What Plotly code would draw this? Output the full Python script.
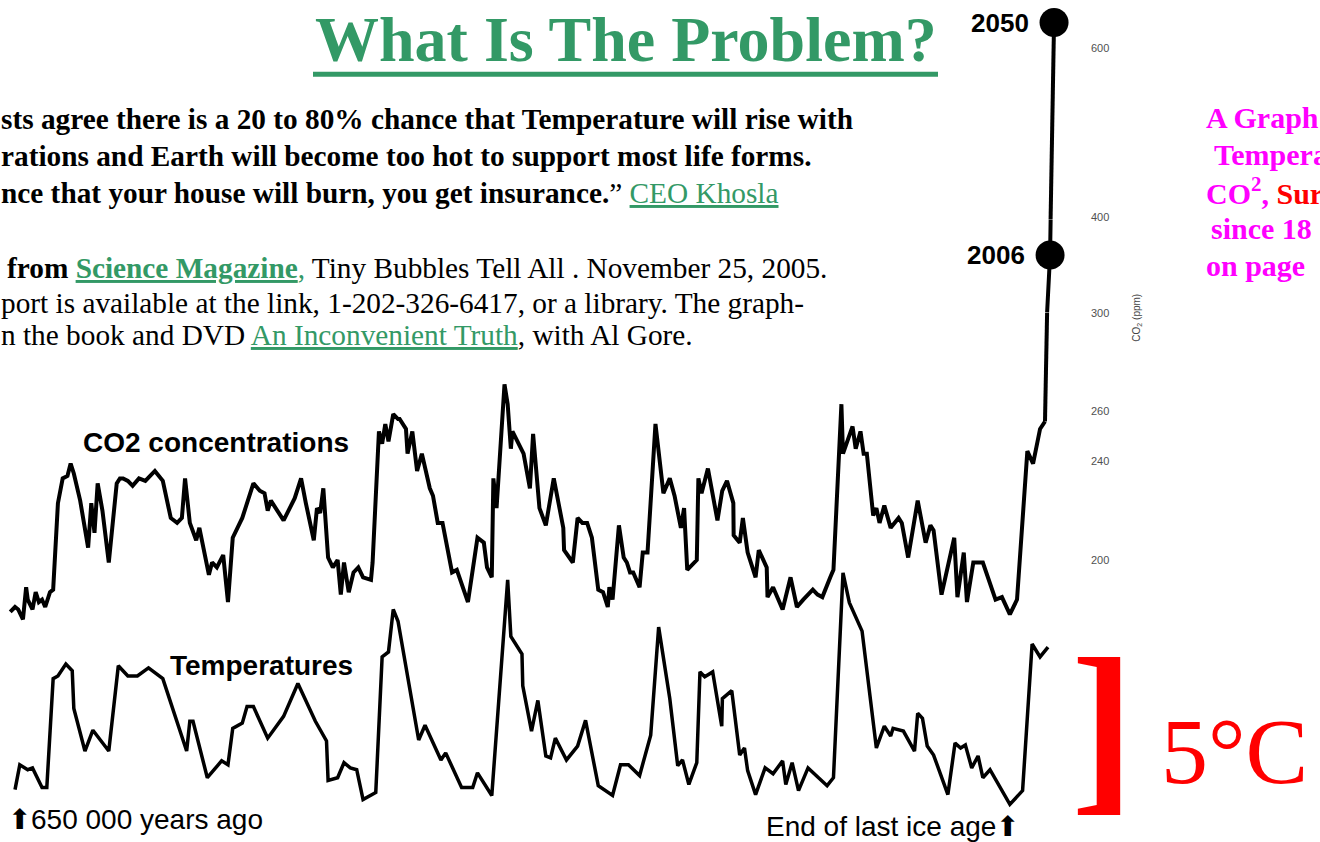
import plotly.graph_objects as go

# ---------------- data ----------------
# CO2 record: thousand years before present -> ppm
co2_kyr = [653, 650, 648, 645, 643, 642, 639, 637, 635, 633,
           631, 628, 626, 623, 620, 617, 615, 613, 609, 604,
           602, 600, 598, 595, 591, 586, 584, 582, 579, 576,
           572, 568, 562, 557, 552, 548, 545, 543, 540, 536,
           534, 530, 528, 526, 523, 519, 516, 513, 507, 500,
           496, 493, 491, 489, 481, 474, 470, 467, 462, 460,
           458, 456, 453, 450, 447, 445, 443, 440, 437, 434,
           431, 426, 425, 421, 419, 417, 415, 412, 409, 408,
           404, 403, 400, 397, 394, 389, 387, 384, 381, 375,
           372, 365, 359, 355, 353, 350, 349, 347, 342, 340,
           338, 337, 332, 330, 326, 324, 320, 316, 311, 308,
           305, 304.5, 299, 296, 293, 290, 287, 283, 280, 277,
           276, 274, 270, 267, 265, 263, 261, 257, 255, 252,
           247, 242, 238, 235, 231, 229, 227, 221, 220, 218,
           214, 208, 205, 202, 198, 197.8, 194, 192, 189, 184,
           182, 177, 176.5, 173, 167, 162, 158, 154, 148, 145,
           142, 137, 135, 130, 129, 123, 121, 118, 116, 114,
           110, 108, 106, 103, 99, 94, 92, 88, 82, 77,
           74, 72, 67, 59, 57, 53, 51, 47, 41, 33,
           29, 24, 19.5, 13, 9.4, 5.0, 1.9]
co2_ppm = [179, 181, 180, 176, 189, 184, 180, 187, 183, 184,
           181, 187, 188, 223, 233, 234, 239, 235, 224, 205,
           223, 211, 231, 220, 199, 231, 233, 233, 232, 230,
           233, 232, 236, 232, 217, 215, 217, 233, 215, 208,
           213, 199, 194, 199, 197, 202, 183, 209, 217, 231,
           228, 227, 220, 224, 216, 225, 233, 223, 208, 221,
           219, 229, 201, 197, 200, 186, 199, 187, 195, 197,
           193, 192, 199, 252, 247, 255, 248, 259, 257, 257,
           253, 243, 252, 236, 243, 229, 226, 215, 215, 195,
           196, 183, 209, 207, 197, 193, 233, 221, 271, 263,
           245, 252, 245, 243, 229, 251, 221, 214, 233, 223,
           213, 204, 199, 217, 215, 215, 209, 188, 187, 181,
           189, 184, 214, 201, 199, 195, 195, 189, 203, 203,
           255, 227, 233, 226, 213, 221, 196, 200, 233, 227,
           237, 216, 228, 232, 223, 210, 207, 217, 203, 193,
           204, 197, 185, 189, 180, 193, 181, 184, 188, 186,
           185, 193, 196, 263, 243, 254, 245, 252, 243, 243,
           218, 221, 215, 222, 213, 217, 215, 201, 224, 207,
           214, 212, 186, 209, 185, 203, 183, 199, 199, 184,
           185, 178, 184, 244, 239, 253, 256]

# Temperature record: thousand years before present -> deg C relative to today
temp_kyr = [650, 647, 642, 639, 633, 630, 626, 623, 618, 614,
            613, 606, 601, 591, 585, 579, 573, 566, 557, 542,
            540, 538, 529, 520, 516, 513, 507, 504, 500, 491,
            481, 472, 461, 454, 453, 447, 443, 439, 435, 431,
            423, 419, 415, 412, 409, 396, 392, 382, 379, 369,
            362, 359, 350, 340, 338, 331, 330.5, 325, 321, 316,
            313, 310, 303, 296, 291, 283, 274, 269, 264, 257,
            250, 245, 238, 233, 230, 226, 221, 219, 216, 211,
            205.3, 204.9, 199, 194, 191, 189, 184, 178, 173, 167,
            165, 161, 157, 151, 139, 135, 129, 125, 117, 108,
            103, 99, 97.5, 91, 84, 82, 79, 76, 72, 63,
            58.5, 55, 52, 48, 44, 41, 36.5, 24, 16, 10,
            5, 0]
temp_anom = [-4.65, -3.84, -4.0, -3.94, -4.58, -4.58, -1.03, -0.94, -0.55, -0.77,
             -2.0, -3.39, -2.71, -3.39, -0.61, -0.94, -0.94, -0.68, -1.03, -3.39,
             -2.42, -2.42, -4.26, -3.71, -3.84, -2.65, -2.48, -1.94, -1.94, -2.97,
             -2.26, -1.19, -2.42, -3.06, -4.35, -4.26, -3.77, -3.94, -4.0, -4.97,
             -4.74, -0.32, -0.16, 1.23, 0.84, -3.03, -2.55, -3.68, -3.45, -4.58,
             -4.58, -4.10, -4.84, 2.19, 0.35, -0.23, -1.26, -2.74, -1.74, -3.55,
             -3.61, -2.97, -3.68, -3.23, -2.39, -4.52, -4.84, -3.84, -3.84, -4.19,
             -2.87, 0.65, -1.68, -3.87, -3.68, -4.48, -3.77, -0.81, -0.97, -0.81,
             -2.58, -1.68, -1.42, -3.52, -3.29, -4.03, -4.81, -3.94, -4.13, -3.71,
             -4.48, -3.77, -4.68, -3.94, -4.52, -4.26, 2.42, 1.45, 0.52, -3.29,
             -2.58, -2.90, -2.65, -2.74, -3.39, -2.16, -2.32, -3.23, -3.52, -4.81,
             -3.13, -3.29, -3.19, -3.94, -3.55, -4.26, -4.0, -5.13, -4.68, 0.10,
             -0.32, 0.0]

# Modern CO2 points
modern_labels = ["2006", "2050"]
modern_kyr = [-1.3, -3.8]
modern_ppm = [362, 630]

# CO2 axis tick labels (broken scale)
co2_ticks_low = [200, 240, 260, 300]
co2_ticks_high = [400, 600]

assert len(co2_kyr) == len(co2_ppm)
assert len(temp_kyr) == len(temp_anom)

# ---------------- styling / layout helpers ----------------
W, H = 1320, 842
GREEN = "#339966"
MAGENTA = "#FF00FF"
RED = "#FF0000"
SERIF = "Liberation Serif, Times New Roman, serif"
SANS = "Liberation Sans, Arial, sans-serif"

# axis ranges of the broken CO2 scale (lower / middle / upper piece)
R_LOW = [87.2, 300]
R_MID = [300, 400]
R_TOP = [397, 649.6]


def fx(px):
    return px / W


def fy(py):
    return 1 - py / H


def clip_to_band(xs, ys, lo, hi):
    out_x, out_y = [], []
    for i in range(len(xs) - 1):
        x0, y0, x1, y1 = xs[i], ys[i], xs[i + 1], ys[i + 1]
        if y1 == y0:
            if not (lo <= y0 <= hi):
                continue
            t0, t1 = 0.0, 1.0
        else:
            ta, tb = (lo - y0) / (y1 - y0), (hi - y0) / (y1 - y0)
            t0, t1 = max(0.0, min(ta, tb)), min(1.0, max(ta, tb))
            if t0 >= t1:
                continue
        for t in (t0, t1):
            qx, qy = x0 + (x1 - x0) * t, y0 + (y1 - y0) * t
            if not out_x or abs(out_x[-1] - qx) > 1e-9 or abs(out_y[-1] - qy) > 1e-9:
                out_x.append(qx)
                out_y.append(qy)
    return out_x, out_y


fig = go.Figure()

# historic CO2
fig.add_trace(go.Scatter(x=co2_kyr, y=co2_ppm, mode="lines",
                         line=dict(color="black", width=4),
                         xaxis="x", yaxis="y", hoverinfo="skip"))

# modern rise drawn across the broken scale
bands = [("y", -1e9, R_LOW[1]), ("y2", R_MID[0], R_MID[1]), ("y3", R_TOP[0], 1e9)]
link_x = [co2_kyr[-1]] + modern_kyr
link_y = [co2_ppm[-1]] + modern_ppm
for axis, lo, hi in bands:
    sx, sy = clip_to_band(link_x, link_y, lo, hi)
    if len(sx) >= 2:
        fig.add_trace(go.Scatter(x=sx, y=sy, mode="lines",
                                 line=dict(color="black", width=4),
                                 xaxis="x", yaxis=axis, hoverinfo="skip"))

for lab, k, p in zip(modern_labels, modern_kyr, modern_ppm):
    axis = "y2" if p < R_MID[1] else "y3"
    fig.add_trace(go.Scatter(x=[k], y=[p], mode="markers",
                             marker=dict(size=29, color="black"),
                             xaxis="x", yaxis=axis, cliponaxis=False, hoverinfo="skip"))
    fig.add_annotation(x=k, y=p, xref="x", yref=axis, text=f"<b>{lab}</b>",
                       showarrow=False, xanchor="right", yanchor="middle",
                       xshift=-24, borderpad=0,
                       font=dict(size=26, family=SANS, color="black"))

# temperature
fig.add_trace(go.Scatter(x=temp_kyr, y=temp_anom, mode="lines",
                         line=dict(color="black", width=3.5),
                         xaxis="x", yaxis="y4", hoverinfo="skip"))


def label(text, px, py, size, family, color="black", xanchor="left", **kw):
    fig.add_annotation(text=text, x=fx(px), y=fy(py), xref="paper", yref="paper",
                       showarrow=False, xanchor=xanchor, yanchor="middle",
                       borderpad=0, font=dict(size=size, family=family, color=color), **kw)


# title
label("<b>What Is The Problem?</b>", 625.5, 33.5, 64, SERIF, GREEN, xanchor="center")
fig.add_shape(type="rect", xref="paper", yref="paper",
              x0=fx(313), x1=fx(938), y0=fy(71.5), y1=fy(66.5),
              fillcolor=GREEN, line=dict(width=0))

# paragraph 1
PS = 29.3
label("<b>sts agree there is a 20 to 80% chance that Temperature will rise with</b>", 0, 114, PS, SERIF)
label("<b>rations and Earth will become too hot to support most life forms.</b>", 0, 152, PS, SERIF)
label("<b>nce that your house will burn, you get insurance.</b>” "
      f"<span style='color:{GREEN}'><u>CEO Khosla</u></span>", 0, 189, PS, SERIF)

# paragraph 2
label(f"<b>from</b> <span style='color:{GREEN}'><b><u>Science Magazine</u></b>,</span> "
      "Tiny Bubbles Tell All . November 25, 2005.", 6, 265, PS, SERIF)
label("port is available at the link, 1-202-326-6417, or a library. The graph-", 0, 300, PS, SERIF)
label(f"n the book and DVD <span style='color:{GREEN}'><u>An Inconvenient Truth</u></span>, with Al Gore.",
      0, 333, PS, SERIF)

# right-hand caption (cut by the page edge, as in the original page)
label("<b>A Graph</b>", 1205, 113, 30, SERIF, MAGENTA)
label("<b>Tempera</b>", 1213, 150, 30, SERIF, MAGENTA)
label(f"<b>CO<sup>2</sup>, <span style='color:{RED}'>Sur</span></b>", 1205, 187, 30, SERIF, MAGENTA)
label("<b>since 18</b>", 1210, 225, 30, SERIF, MAGENTA)
label("<b>on page</b>", 1205, 262, 30, SERIF, MAGENTA)

# chart labels
label("<b>CO2 concentrations</b>", 82, 441, 28, SANS)
label("<b>Temperatures</b>", 169, 667, 28, SANS)
label("⬆650 000 years ago", 7, 822, 28, SANS)
label("End of last ice age⬆", 765, 829, 28, SANS)
label("CO<sub>2</sub> (ppm)", 1137, 315, 10, SANS, "#444", xanchor="center", textangle=-90)

# 5 degree bracket
label("<b>]</b>", 1070, 728, 190, SERIF, RED)
label("5°C", 1160, 753, 94, SERIF, RED)

axis_font = dict(size=11, color="#505050", family=SANS)
fig.update_layout(
    width=W, height=H,
    margin=dict(l=0, r=0, t=0, b=0),
    paper_bgcolor="white", plot_bgcolor="rgba(0,0,0,0)",
    showlegend=False,
    xaxis=dict(domain=[0, 1], range=[659.45, -171.15], visible=False, fixedrange=True),
    yaxis=dict(domain=[0, fy(310)], range=R_LOW, anchor="free", position=fx(1090),
               side="right", tickmode="array", tickvals=co2_ticks_low, ticks="",
               showgrid=False, zeroline=False, showline=False, tickfont=axis_font),
    yaxis2=dict(domain=[fy(310), fy(216)], range=R_MID, anchor="x", visible=False),
    yaxis3=dict(domain=[fy(216), 1], range=R_TOP, anchor="free", position=fx(1090),
                side="right", tickmode="array", tickvals=co2_ticks_high, ticks="",
                showgrid=False, zeroline=False, showline=False, tickfont=axis_font),
    yaxis4=dict(domain=[0, 1], range=[-6.258, 20.903], anchor="x", visible=False),
)

fig.write_html("out.html", config={"displayModeBar": False},
               post_script="document.body.style.margin='0';")
